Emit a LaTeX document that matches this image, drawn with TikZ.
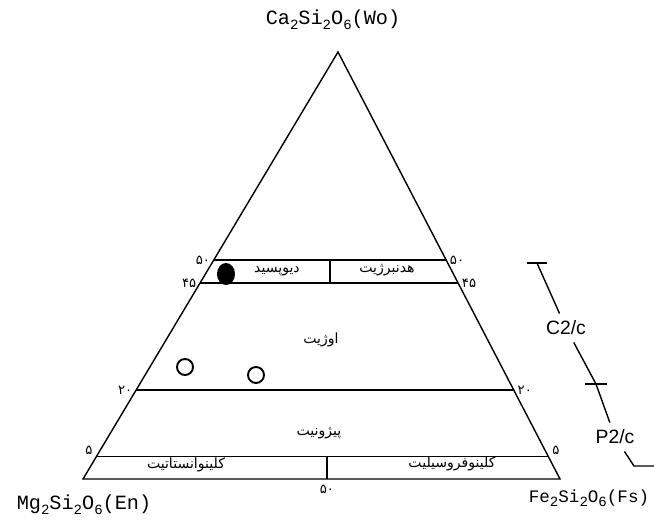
\documentclass[tikz,border=0pt]{standalone}
\usepackage{fontspec}
\setmonofont{Liberation Mono}
\setsansfont{Liberation Sans}
\newfontfamily\fafont[Script=Arabic]{DejaVu Sans}
\newfontfamily\fanum{DejaVu Sans}
\TeXXeTstate=1
\usetikzlibrary{calc,positioning,shapes.geometric}
\newcommand{\fa}[1]{\beginR #1\endR}
\newcommand{\sbs}[1]{\raisebox{-0.45ex}{\fontsize{8}{9}\selectfont #1}}

\begin{document}
\begin{tikzpicture}[x=0.02cm,y=-0.02cm,
   edge/.style={line width=0.8pt},
   mineral/.style={font=\fontsize{8}{9}\selectfont\fafont,inner sep=1pt},
   pct/.style={font=\fontsize{7.5}{8}\selectfont\fanum,inner sep=1pt},
   endm/.style={font=\ttfamily\fontsize{11.5}{13}\selectfont,inner sep=1pt},
   grp/.style={font=\sffamily\fontsize{11}{13}\selectfont,inner sep=4pt},
   sample/.style={circle,draw,line width=1.1pt,minimum size=0.32cm,inner sep=0pt}]
  \useasboundingbox (0,0) rectangle (654,521);
  % corners of the quadrilateral
  \coordinate (wo) at (338,52);
  \coordinate (en) at (83,479);
  \coordinate (fs) at (560,479);
  \coordinate (l50) at ($(en)!0.513!(wo)$);  \coordinate (r50) at ($(fs)!0.513!(wo)$);
  \coordinate (l45) at ($(en)!0.459!(wo)$);  \coordinate (r45) at ($(fs)!0.459!(wo)$);
  \coordinate (l20) at ($(en)!0.208!(wo)$);  \coordinate (r20) at ($(fs)!0.208!(wo)$);
  \coordinate (l05) at ($(en)!0.052!(wo)$);  \coordinate (r05) at ($(fs)!0.052!(wo)$);
  \coordinate (m50) at ($(l50)!0.5!(r50)$);
  \coordinate (m05) at ($(l05)!0.51!(r05)$);
  \draw[edge] (wo) -- (en) -- (fs) -- cycle;
  \draw[edge] (l50) -- (r50);
  \draw[edge] (l45) -- (r45);
  \draw[edge] (l20) -- (r20);
  \draw[edge] (l05) -- (r05);
  \draw[edge] (m50) -- (m50 |- l45);
  \draw[edge] (m05) -- (m05 |- en);
  % end members
  \node[endm] (woL) at (333,20) {Ca\sbs{2}Si\sbs{2}O\sbs{6}(Wo)};
  \node[endm] (enL) at (84,505) {Mg\sbs{2}Si\sbs{2}O\sbs{6}(En)};
  \node[endm,font=\ttfamily\fontsize{10}{12}\selectfont] (fsL) at (589,498) {Fe\sbs{2}Si\sbs{2}O\sbs{6}(Fs)};
  % percent ticks
  \node[pct,left=1pt] (t50l) at (l50) {۵۰};
  \node[pct,left=1pt] (t45l) at (l45) {۴۵};
  \node[pct,left=1pt] (t20l) at (l20) {۲۰};
  \node[pct,above left=0pt and 1pt] (t05l) at (l05) {۵};
  \node[pct,right=1pt] (t50r) at (r50) {۵۰};
  \node[pct,right=1pt] (t45r) at (r45) {۴۵};
  \node[pct,right=1pt] (t20r) at (r20) {۲۰};
  \node[pct,above right=0pt and 1pt] (t05r) at (r05) {۵};
  \node[pct,below=2pt] (t50b) at (m05 |- en) {۵۰};
  % minerals
  \node[mineral] (dio) at (277,271) {\fa{دیوپسید}};
  \node[mineral] (hed) at (387,270) {\fa{هدنبرژیت}};
  \node[mineral] (aug) at (321,340) {\fa{اوژیت}};
  \node[mineral] (pig) at (319,433) {\fa{پیژونیت}};
  \node[mineral] (cen) at (186,465) {\fa{کلینوانستاتیت}};
  \node[mineral] (cfs) at (452,464) {\fa{کلینوفروسیلیت}};
  % samples
  \node[ellipse,fill,minimum width=0.36cm,minimum height=0.44cm,inner sep=0pt] (s1) at (226,274) {};
  \node[sample] (s2) at (185,367) {};
  \node[sample] (s3) at (256,375) {};
  % space groups
  \coordinate (ctop) at (537,263);
  \node[grp] (c2c) at (566,328) {C2/c};
  \coordinate (cx) at (596,384);
  \node[grp] (p2c) at (615,437) {P2/c};
  \coordinate (pbot) at (634,466);
  \coordinate (pend) at (654,466);
  \draw[edge] ($(ctop)+(-10,0)$) -- ($(ctop)+(10,0)$);
  \draw[edge] (ctop) -- (c2c);
  \draw[edge] (c2c) -- (cx) -- (p2c);
  \draw[edge] ($(cx)+(-11,0)$) -- ($(cx)+(11,0)$);
  \draw[edge] (p2c) -- (pbot) -- (pend);
\end{tikzpicture}
\end{document}
